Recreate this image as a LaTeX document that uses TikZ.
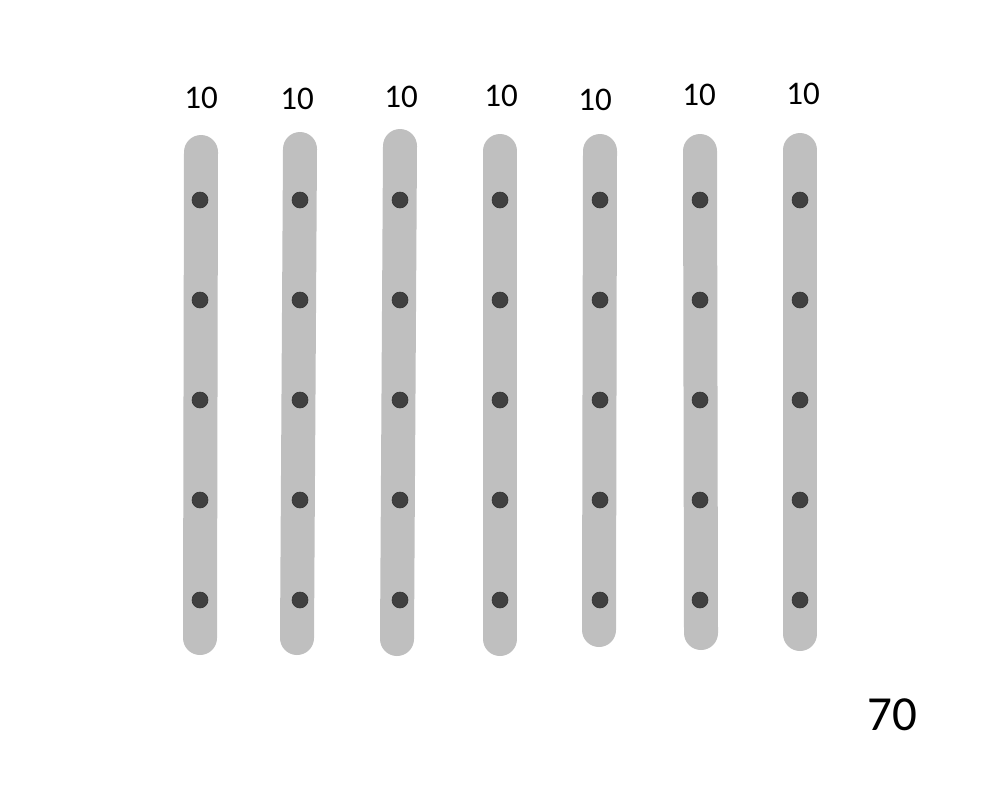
\documentclass[tikz,border=0pt]{standalone}
\usepackage{fontspec}
\setmainfont{Carlito}
\usepackage{xcolor}
\usepackage{tikz}
\usetikzlibrary{positioning}

\definecolor{bargray}{HTML}{BFBFBF}
\definecolor{beadgray}{HTML}{404040}

\begin{document}
\begin{tikzpicture}[
  x=0.5pt, y=-0.5pt,
  bar/.style  ={draw=bargray, line width=17pt, line cap=round},
  bead/.style ={circle, fill=beadgray, draw=black!80, line width=0.3pt,
                minimum size=8pt, inner sep=0pt},
  count/.style={font=\fontsize{16.5}{19}\selectfont, inner sep=0pt},
  total/.style={font=\fontsize{24.5}{29}\selectfont, inner sep=0pt}
]
\useasboundingbox (0,0) rectangle (1000,800);

% seven rods, each with five beads
\foreach \i/\tx/\ty/\bx/\by/\lx/\ly in {
    1/201/152/200/638/201/98,
    2/300/149/297/638/297/99,
    3/400/146/397/639/401/97,
    4/500/151/500/639/501/96,
    5/600/151/599/630/595/100,
    6/700/151/701/633/699/95,
    7/800/150/800/634/803/94}{
  \coordinate (top\i) at (\tx,\ty);
  \coordinate (bot\i) at (\bx,\by);
  \draw[bar] (top\i) -- (bot\i);
  \foreach \j in {1,...,5}
    \node[bead] (b\i\j) at (\i*100+100,\j*100+100) {};
  \node[count] (n\i) at (\lx,\ly) {10};
}

\node[total] (sum) at (892,715) {70};
\end{tikzpicture}
\end{document}
